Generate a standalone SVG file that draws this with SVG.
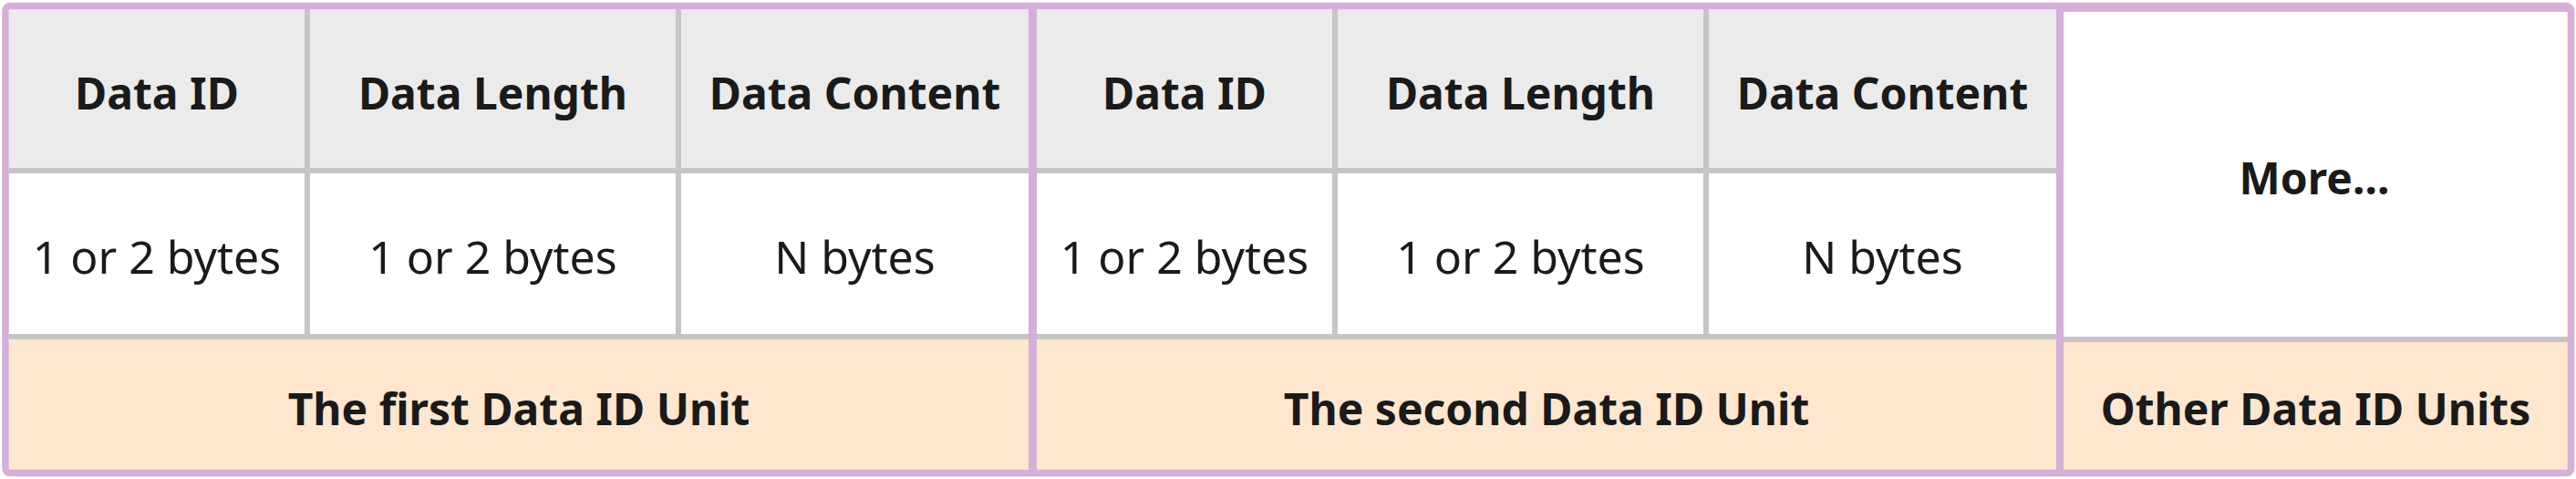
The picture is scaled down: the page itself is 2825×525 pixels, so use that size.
<svg xmlns="http://www.w3.org/2000/svg" width="2825" height="525" viewBox="0 0 2825 525">
  <style>
    .hdr { fill: #EBEBEB; }
    .val { fill: #FFFFFF; }
    .ftr { fill: #FEE7CE; }
    .grid { stroke: #C5C5C5; stroke-width: 6; fill: none; }
    .sep { stroke: #D4AFD7; fill: none; }
    .b { font-family: "Noto Sans", "Open Sans", sans-serif; font-weight: 700; font-size: 48px; fill: #1A1A1A; text-anchor: middle; }
    .r { font-family: "Noto Sans", "Open Sans", sans-serif; font-weight: 400; font-size: 50px; fill: #1A1A1A; text-anchor: middle; }
  </style>
  <rect x="0" y="0" width="2825" height="525" fill="#FFFFFF"/>

  <g id="unit1">
    <g id="u1-id-hdr"><rect class="hdr" x="10" y="10" width="327" height="177"/><text class="b" x="172" y="120">Data ID</text></g>
    <g id="u1-len-hdr"><rect class="hdr" x="337" y="10" width="407" height="177"/><text class="b" x="540.5" y="120">Data Length</text></g>
    <g id="u1-con-hdr"><rect class="hdr" x="744" y="10" width="384" height="177"/><text class="b" x="937.5" y="120">Data Content</text></g>
    <g id="u1-id-val"><rect class="val" x="10" y="187" width="327" height="182"/><text class="r" x="172" y="300">1 or 2 bytes</text></g>
    <g id="u1-len-val"><rect class="val" x="337" y="187" width="407" height="182"/><text class="r" x="540.5" y="300">1 or 2 bytes</text></g>
    <g id="u1-con-val"><rect class="val" x="744" y="187" width="384" height="182"/><text class="r" x="937.5" y="300">N bytes</text></g>
    <g id="u1-ftr"><rect class="ftr" x="10" y="369" width="1118" height="146"/><text class="b" x="569" y="466">The first Data ID Unit</text></g>
  </g>

  <g id="unit2">
    <g id="u2-id-hdr"><rect class="hdr" x="1137" y="10" width="327" height="177"/><text class="b" x="1299" y="120">Data ID</text></g>
    <g id="u2-len-hdr"><rect class="hdr" x="1464" y="10" width="407" height="177"/><text class="b" x="1667.5" y="120">Data Length</text></g>
    <g id="u2-con-hdr"><rect class="hdr" x="1871" y="10" width="384" height="177"/><text class="b" x="2064.5" y="120">Data Content</text></g>
    <g id="u2-id-val"><rect class="val" x="1137" y="187" width="327" height="182"/><text class="r" x="1299" y="300">1 or 2 bytes</text></g>
    <g id="u2-len-val"><rect class="val" x="1464" y="187" width="407" height="182"/><text class="r" x="1667.5" y="300">1 or 2 bytes</text></g>
    <g id="u2-con-val"><rect class="val" x="1871" y="187" width="384" height="182"/><text class="r" x="2064.5" y="300">N bytes</text></g>
    <g id="u2-ftr"><rect class="ftr" x="1137" y="369" width="1118" height="146"/><text class="b" x="1696" y="466">The second Data ID Unit</text></g>
  </g>

  <g id="more">
    <g id="more-cell"><rect class="val" x="2263" y="10" width="553" height="362"/><text class="b" x="2538" y="213">More...</text></g>
    <g id="more-ftr"><rect class="ftr" x="2263" y="372" width="553" height="143"/><text class="b" x="2539.5" y="466">Other Data ID Units</text></g>
  </g>

  <g id="connectors">
    <path class="grid" d="M10 187 H1128 M1137 187 H2255 M10 369 H1128 M1137 369 H2255 M2263 372 H2816"/>
    <path class="grid" d="M337 10 V369 M744 10 V369 M1464 10 V369 M1871 10 V369"/>
    <path class="sep" stroke-width="9" d="M1132.5 6 V518"/>
    <path class="sep" stroke-width="8" d="M2259 6 V518"/>
    <path class="sep" stroke-width="4" d="M2259 11 H2819"/>
    <rect class="sep" x="6" y="6.5" width="2813.5" height="512" rx="5" stroke-width="7.5"/>
  </g>
</svg>
